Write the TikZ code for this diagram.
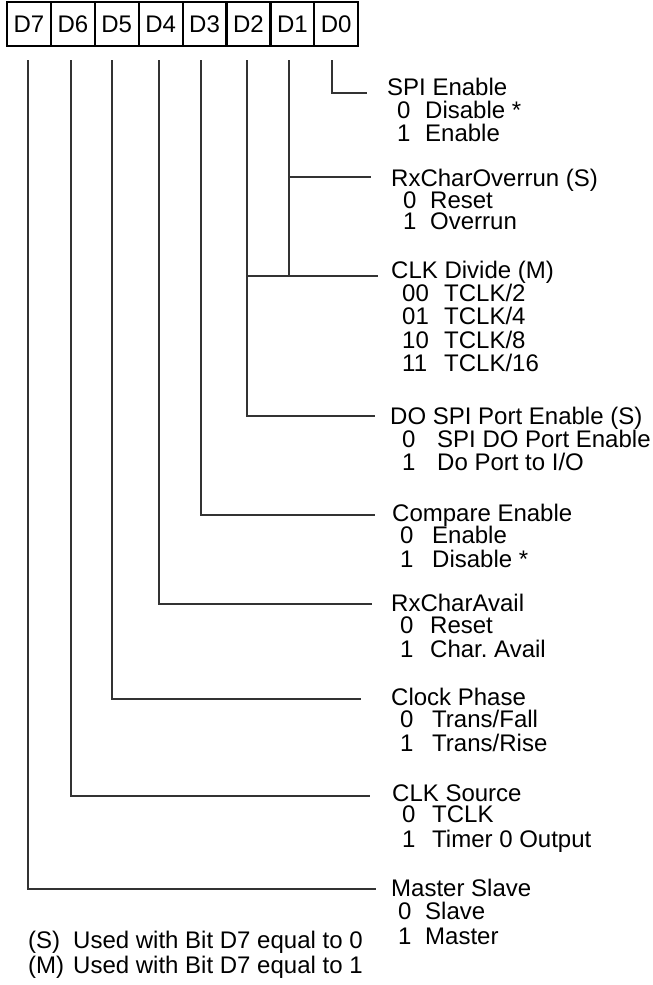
\documentclass[tikz,border=0pt]{standalone}
\usepackage{fontspec}
\setmainfont{Liberation Sans}
\newcommand\rfs{\fontsize{24}{28}\selectfont}
\newcommand\dg[2]{\makebox[#1][l]{#2}}
\frenchspacing
\begin{document}
\begin{tikzpicture}[x=1pt,y=-1pt,
  conn/.style={draw=black!80, line width=1.3pt},
  bit/.style={draw=black, line width=2.2pt, minimum width=43.9pt, minimum height=44pt, inner sep=0pt, font=\rfs},
  txt/.style={anchor=base west, inner sep=0pt, font=\rfs}]
\useasboundingbox (0,0) rectangle (653,985);

% register bits
\foreach \i/\n in {0/7,1/6,2/5,3/4,4/3,5/2,6/1,7/0}{
  \node[bit] (b\n) at ({7+43.9*(\i+0.5)},24) {D\n};
}

% connector start points
\coordinate (t7) at (28,60);
\coordinate (t6) at (71,60);
\coordinate (t5) at (112,60);
\coordinate (t4) at (159,60);
\coordinate (t3) at (201,60);
\coordinate (t2) at (247,60);
\coordinate (t1) at (289,60);
\coordinate (t0) at (332,60);

% connector end points
\coordinate (e0) at (367,93);
\coordinate (e1) at (371,177);
\coordinate (ec) at (378,276);
\coordinate (ed) at (375,416);
\coordinate (ep) at (375,515);
\coordinate (ea) at (372,604);
\coordinate (eh) at (361,699);
\coordinate (es) at (370,796);
\coordinate (em) at (376,889);

% texts
\node[txt] (h0) at (387,95) {SPI Enable};
\node[txt] (h0a) at (397,118) {\dg{28pt}{0}Disable *};
\node[txt] (h0b) at (397,141.5) {\dg{28pt}{1}Enable};

\node[txt] (h1) at (391,186) {RxCharOverrun (S)};
\node[txt] (h1a) at (403,208) {\dg{27pt}{0}Reset};
\node[txt] (h1b) at (403,229) {\dg{27pt}{1}Overrun};

\node[txt] (hc) at (391,278) {CLK Divide (M)};
\node[txt] (hca) at (402,301) {\dg{42pt}{00}TCLK/2};
\node[txt] (hcb) at (402,324.5) {\dg{42pt}{01}TCLK/4};
\node[txt] (hcc) at (402,348) {\dg{42pt}{10}TCLK/8};
\node[txt] (hcd) at (402,371.5) {\dg{42pt}{11}TCLK/16};

\node[txt] (hd) at (390,424) {DO SPI Port Enable (S)};
\node[txt] (hda) at (402,447) {\dg{35pt}{0}SPI DO Port Enable};
\node[txt] (hdb) at (402,470) {\dg{35pt}{1}Do Port to I/O};

\node[txt] (hp) at (392,521) {Compare Enable};
\node[txt] (hpa) at (400,543.5) {\dg{32pt}{0}Enable};
\node[txt] (hpb) at (400,567) {\dg{32pt}{1}Disable *};

\node[txt] (ha) at (391,611) {RxCharAvail};
\node[txt] (haa) at (400,633) {\dg{30pt}{0}Reset};
\node[txt] (hab) at (400,657) {\dg{30pt}{1}Char. Avail};

\node[txt] (hh) at (391,705) {Clock Phase};
\node[txt] (hha) at (400,727) {\dg{32pt}{0}Trans/Fall};
\node[txt] (hhb) at (400,751) {\dg{32pt}{1}Trans/Rise};

\node[txt] (hs) at (392,801) {CLK Source};
\node[txt] (hsa) at (402,822) {\dg{30pt}{0}TCLK};
\node[txt] (hsb) at (402,847) {\dg{30pt}{1}Timer 0 Output};

\node[txt] (hm) at (391,896) {Master Slave};
\node[txt] (hma) at (398,919) {\dg{27pt}{0}Slave};
\node[txt] (hmb) at (398,944) {\dg{27pt}{1}Master};

\node[txt] (fs) at (28,948) {\dg{45pt}{(S)}Used with Bit D7 equal to 0};
\node[txt] (fm) at (28,973) {\dg{45pt}{(M)}Used with Bit D7 equal to 1};

% connectors
\draw[conn] (t0) |- (e0);
\draw[conn] (t1) |- (e1);
\draw[conn] (t1) -- (t1 |- ec);
\draw[conn] (t2) |- (ec);
\draw[conn] (t2) |- (ed);
\draw[conn] (t3) |- (ep);
\draw[conn] (t4) |- (ea);
\draw[conn] (t5) |- (eh);
\draw[conn] (t6) |- (es);
\draw[conn] (t7) |- (em);
\end{tikzpicture}
\end{document}
